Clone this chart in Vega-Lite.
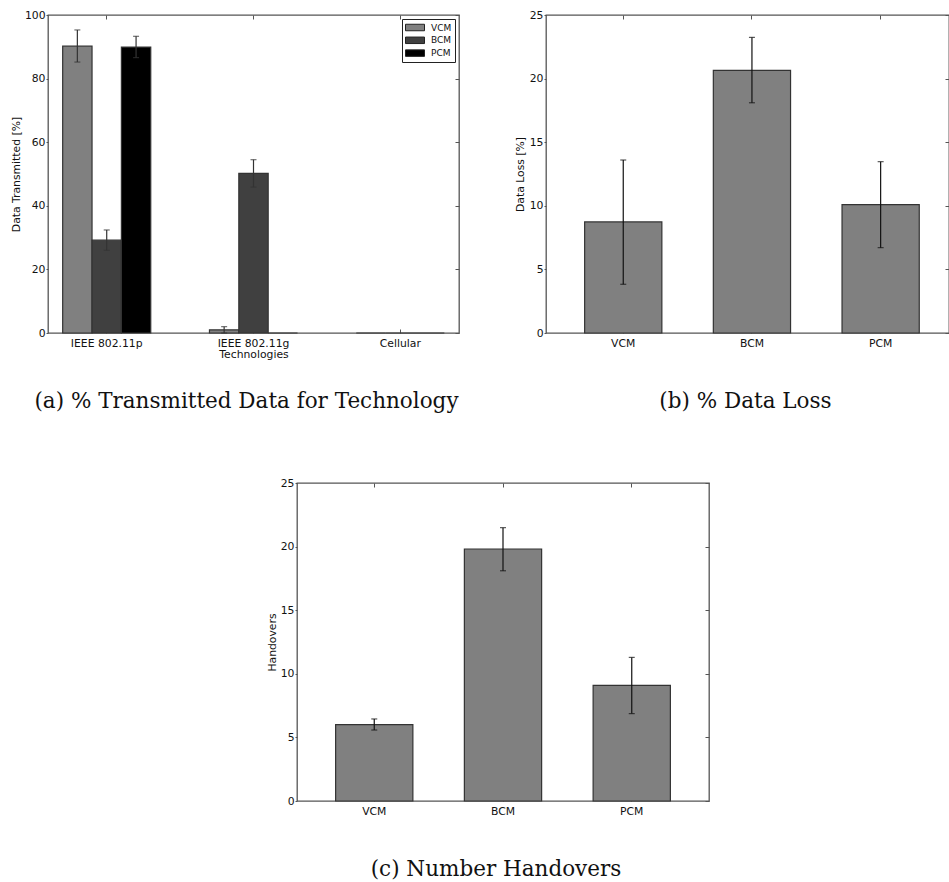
{
  "$schema": "https://vega.github.io/schema/vega-lite/v6.json",
  "background": "white",
  "padding": {"left": 9, "top": 8, "right": 0, "bottom": 0},
  "autosize": {"type": "pad"},
  "config": {
    "font": "DejaVu Sans",
    "view": {"stroke": "#555", "strokeWidth": 1.3},
    "axis": {"domain": false, "grid": false, "labelFont": "DejaVu Sans", "labelFontSize": 10.8, "labelColor": "#111", "titleFont": "DejaVu Sans", "titleFontSize": 10.8, "titleFontWeight": "normal", "titleColor": "#111", "tickColor": "#555", "tickWidth": 1},
    "axisX": {"labelAngle": 0},
    "title": {"font": "DejaVu Serif", "fontSize": 21.5, "fontWeight": "normal", "color": "#111", "orient": "bottom", "anchor": "middle"}
  },
  "datasets": {
    "transmitted": [
      {"technology": "IEEE 802.11p", "method": "VCM", "value": 90.2, "lo": 85.2, "hi": 95.3},
      {"technology": "IEEE 802.11p", "method": "BCM", "value": 29.2, "lo": 26.0, "hi": 32.4},
      {"technology": "IEEE 802.11p", "method": "PCM", "value": 89.9, "lo": 86.6, "hi": 93.3},
      {"technology": "IEEE 802.11g", "method": "VCM", "value": 1.0, "lo": 0.0, "hi": 2.0},
      {"technology": "IEEE 802.11g", "method": "BCM", "value": 50.2, "lo": 45.9, "hi": 54.5},
      {"technology": "IEEE 802.11g", "method": "PCM", "value": 0, "lo": null, "hi": null},
      {"technology": "Cellular", "method": "VCM", "value": 0, "lo": null, "hi": null},
      {"technology": "Cellular", "method": "BCM", "value": 0, "lo": null, "hi": null},
      {"technology": "Cellular", "method": "PCM", "value": 0, "lo": null, "hi": null}
    ],
    "loss": [
      {"method": "VCM", "value": 8.73, "lo": 3.83, "hi": 13.6},
      {"method": "BCM", "value": 20.65, "lo": 18.1, "hi": 23.24},
      {"method": "PCM", "value": 10.09, "lo": 6.71, "hi": 13.47}
    ],
    "handovers": [
      {"method": "VCM", "value": 6.0, "lo": 5.58, "hi": 6.45},
      {"method": "BCM", "value": 19.81, "lo": 18.1, "hi": 21.49},
      {"method": "PCM", "value": 9.09, "lo": 6.87, "hi": 11.29}
    ],
    "blank": [{"t": ""}]
  },
  "spacing": 63,
  "resolve": {"scale": {"color": "independent"}, "legend": {"color": "independent"}},
  "vconcat": [
    {
      "bounds": "flush",
      "spacing": 87,
      "resolve": {"scale": {"color": "independent"}, "legend": {"color": "independent"}},
      "hconcat": [
        {
          "width": 411,
          "height": 318,
          "title": {"text": "(a) % Transmitted Data for Technology", "baseline": "alphabetic", "offset": 48, "dx": -7},
          "data": {"name": "transmitted"},
          "layer": [
            {
              "mark": {"type": "bar", "stroke": "#333", "strokeWidth": 1.2},
              "encoding": {
                "x": {"field": "technology", "type": "nominal", "sort": ["IEEE 802.11p", "IEEE 802.11g", "Cellular"], "scale": {"paddingInner": 0.4, "paddingOuter": 0.1}, "axis": {"orient": "bottom", "title": "Technologies", "tickSize": -4, "labelPadding": 8, "titlePadding": 1}},
                "xOffset": {"field": "method", "type": "nominal", "sort": ["VCM", "BCM", "PCM"], "scale": {"paddingInner": 0, "paddingOuter": 0}},
                "y": {"field": "value", "type": "quantitative", "scale": {"domain": [0, 100], "nice": false}, "axis": {"orient": "left", "title": "Data Transmitted [%]", "values": [0, 20, 40, 60, 80, 100], "tickSize": 2, "labelPadding": 1, "titlePadding": 3}},
                "color": {"field": "method", "type": "nominal", "sort": ["VCM", "BCM", "PCM"], "scale": {"domain": ["VCM", "BCM", "PCM"], "range": ["#808080", "#404040", "#000000"]},
                  "legend": {"title": null, "orient": "top-right", "offset": 4, "strokeColor": "#222", "padding": 3, "fillColor": "white", "symbolType": "M-1,-0.65L2.8,-0.65L2.8,0.65L-1,0.65Z", "symbolSize": 100, "symbolStrokeColor": "#222", "symbolStrokeWidth": 1, "labelFont": "DejaVu Sans", "labelFontSize": 9, "labelColor": "#111", "labelOffset": 15, "rowPadding": 1.8}}
              }
            },
            {
              "mark": {"type": "rule", "color": "#333", "strokeWidth": 1.2},
              "encoding": {
                "x": {"field": "technology", "type": "nominal", "sort": ["IEEE 802.11p", "IEEE 802.11g", "Cellular"], "scale": {"paddingInner": 0.4, "paddingOuter": 0.1}, "axis": {"orient": "top", "labels": false, "title": null, "tickSize": -4}},
                "xOffset": {"field": "method", "type": "nominal", "sort": ["VCM", "BCM", "PCM"], "scale": {"paddingInner": 0, "paddingOuter": 0}},
                "y": {"field": "lo", "type": "quantitative", "scale": {"domain": [0, 100], "nice": false}, "axis": {"orient": "right", "labels": false, "title": null, "tickSize": -4, "values": [0, 20, 40, 60, 80, 100]}},
                "y2": {"field": "hi"}
              }
            },
            {
              "mark": {"type": "tick", "color": "#333", "size": 6, "thickness": 1.2},
              "encoding": {
                "x": {"field": "technology", "type": "nominal", "sort": ["IEEE 802.11p", "IEEE 802.11g", "Cellular"], "axis": null},
                "xOffset": {"field": "method", "type": "nominal", "sort": ["VCM", "BCM", "PCM"]},
                "y": {"field": "lo", "type": "quantitative", "scale": {"domain": [0, 100], "nice": false}, "axis": null}
              }
            },
            {
              "mark": {"type": "tick", "color": "#333", "size": 6, "thickness": 1.2},
              "encoding": {
                "x": {"field": "technology", "type": "nominal", "sort": ["IEEE 802.11p", "IEEE 802.11g", "Cellular"], "axis": null},
                "xOffset": {"field": "method", "type": "nominal", "sort": ["VCM", "BCM", "PCM"]},
                "y": {"field": "hi", "type": "quantitative", "scale": {"domain": [0, 100], "nice": false}, "axis": null}
              }
            }
          ],
          "resolve": {"axis": {"x": "independent", "y": "independent"}}
        },
        {
          "width": 403,
          "height": 318,
          "title": {"text": "(b) % Data Loss", "baseline": "alphabetic", "offset": 60, "dx": -2},
          "data": {"name": "loss"},
          "layer": [
            {
              "mark": {"type": "bar", "color": "#808080", "stroke": "#333", "strokeWidth": 1.2},
              "encoding": {
                "x": {"field": "method", "type": "nominal", "sort": ["VCM", "BCM", "PCM"], "scale": {"paddingInner": 0.4, "paddingOuter": 0.2657, "align": 0.565}, "axis": {"orient": "bottom", "title": null, "tickSize": -4, "labelPadding": 8}},
                "y": {"field": "value", "type": "quantitative", "scale": {"domain": [0, 25], "nice": false}, "axis": {"orient": "left", "title": "Data Loss [%]", "values": [0, 5, 10, 15, 20, 25], "tickSize": 2, "labelPadding": 1, "titlePadding": 4}}
              }
            },
            {
              "mark": {"type": "rule", "color": "#111", "strokeWidth": 1.2},
              "encoding": {
                "x": {"field": "method", "type": "nominal", "sort": ["VCM", "BCM", "PCM"], "axis": {"orient": "top", "labels": false, "title": null, "tickSize": -4}},
                "y": {"field": "lo", "type": "quantitative", "scale": {"domain": [0, 25], "nice": false}, "axis": {"orient": "right", "labels": false, "title": null, "tickSize": -4, "values": [0, 5, 10, 15, 20, 25]}},
                "y2": {"field": "hi"}
              }
            },
            {
              "mark": {"type": "tick", "color": "#111", "size": 6, "thickness": 1.2},
              "encoding": {
                "x": {"field": "method", "type": "nominal", "sort": ["VCM", "BCM", "PCM"], "axis": null},
                "y": {"field": "lo", "type": "quantitative", "scale": {"domain": [0, 25], "nice": false}, "axis": null}
              }
            },
            {
              "mark": {"type": "tick", "color": "#111", "size": 6, "thickness": 1.2},
              "encoding": {
                "x": {"field": "method", "type": "nominal", "sort": ["VCM", "BCM", "PCM"], "axis": null},
                "y": {"field": "hi", "type": "quantitative", "scale": {"domain": [0, 25], "nice": false}, "axis": null}
              }
            }
          ],
          "resolve": {"axis": {"x": "independent", "y": "independent"}}
        }
      ]
    },
    {
      "bounds": "flush",
      "spacing": 10,
      "hconcat": [
        {
          "width": 239,
          "height": 318,
          "view": {"stroke": null},
          "data": {"name": "blank"},
          "mark": {"type": "text"},
          "encoding": {"text": {"field": "t"}}
        },
        {
          "width": 412,
          "height": 318,
          "title": {"text": "(c) Number Handovers", "baseline": "alphabetic", "offset": 60, "dx": -7},
          "data": {"name": "handovers"},
          "layer": [
            {
              "mark": {"type": "bar", "color": "#808080", "stroke": "#333", "strokeWidth": 1.2},
              "encoding": {
                "x": {"field": "method", "type": "nominal", "sort": ["VCM", "BCM", "PCM"], "scale": {"paddingInner": 0.4, "paddingOuter": 0.3}, "axis": {"orient": "bottom", "title": null, "tickSize": -4, "labelPadding": 8}},
                "y": {"field": "value", "type": "quantitative", "scale": {"domain": [0, 25], "nice": false}, "axis": {"orient": "left", "title": "Handovers", "values": [0, 5, 10, 15, 20, 25], "tickSize": 2, "labelPadding": 1, "titlePadding": 3}}
              }
            },
            {
              "mark": {"type": "rule", "color": "#111", "strokeWidth": 1.2},
              "encoding": {
                "x": {"field": "method", "type": "nominal", "sort": ["VCM", "BCM", "PCM"], "axis": {"orient": "top", "labels": false, "title": null, "tickSize": -4}},
                "y": {"field": "lo", "type": "quantitative", "scale": {"domain": [0, 25], "nice": false}, "axis": {"orient": "right", "labels": false, "title": null, "tickSize": -4, "values": [0, 5, 10, 15, 20, 25]}},
                "y2": {"field": "hi"}
              }
            },
            {
              "mark": {"type": "tick", "color": "#111", "size": 6, "thickness": 1.2},
              "encoding": {
                "x": {"field": "method", "type": "nominal", "sort": ["VCM", "BCM", "PCM"], "axis": null},
                "y": {"field": "lo", "type": "quantitative", "scale": {"domain": [0, 25], "nice": false}, "axis": null}
              }
            },
            {
              "mark": {"type": "tick", "color": "#111", "size": 6, "thickness": 1.2},
              "encoding": {
                "x": {"field": "method", "type": "nominal", "sort": ["VCM", "BCM", "PCM"], "axis": null},
                "y": {"field": "hi", "type": "quantitative", "scale": {"domain": [0, 25], "nice": false}, "axis": null}
              }
            }
          ],
          "resolve": {"axis": {"x": "independent", "y": "independent"}}
        }
      ]
    }
  ]
}
